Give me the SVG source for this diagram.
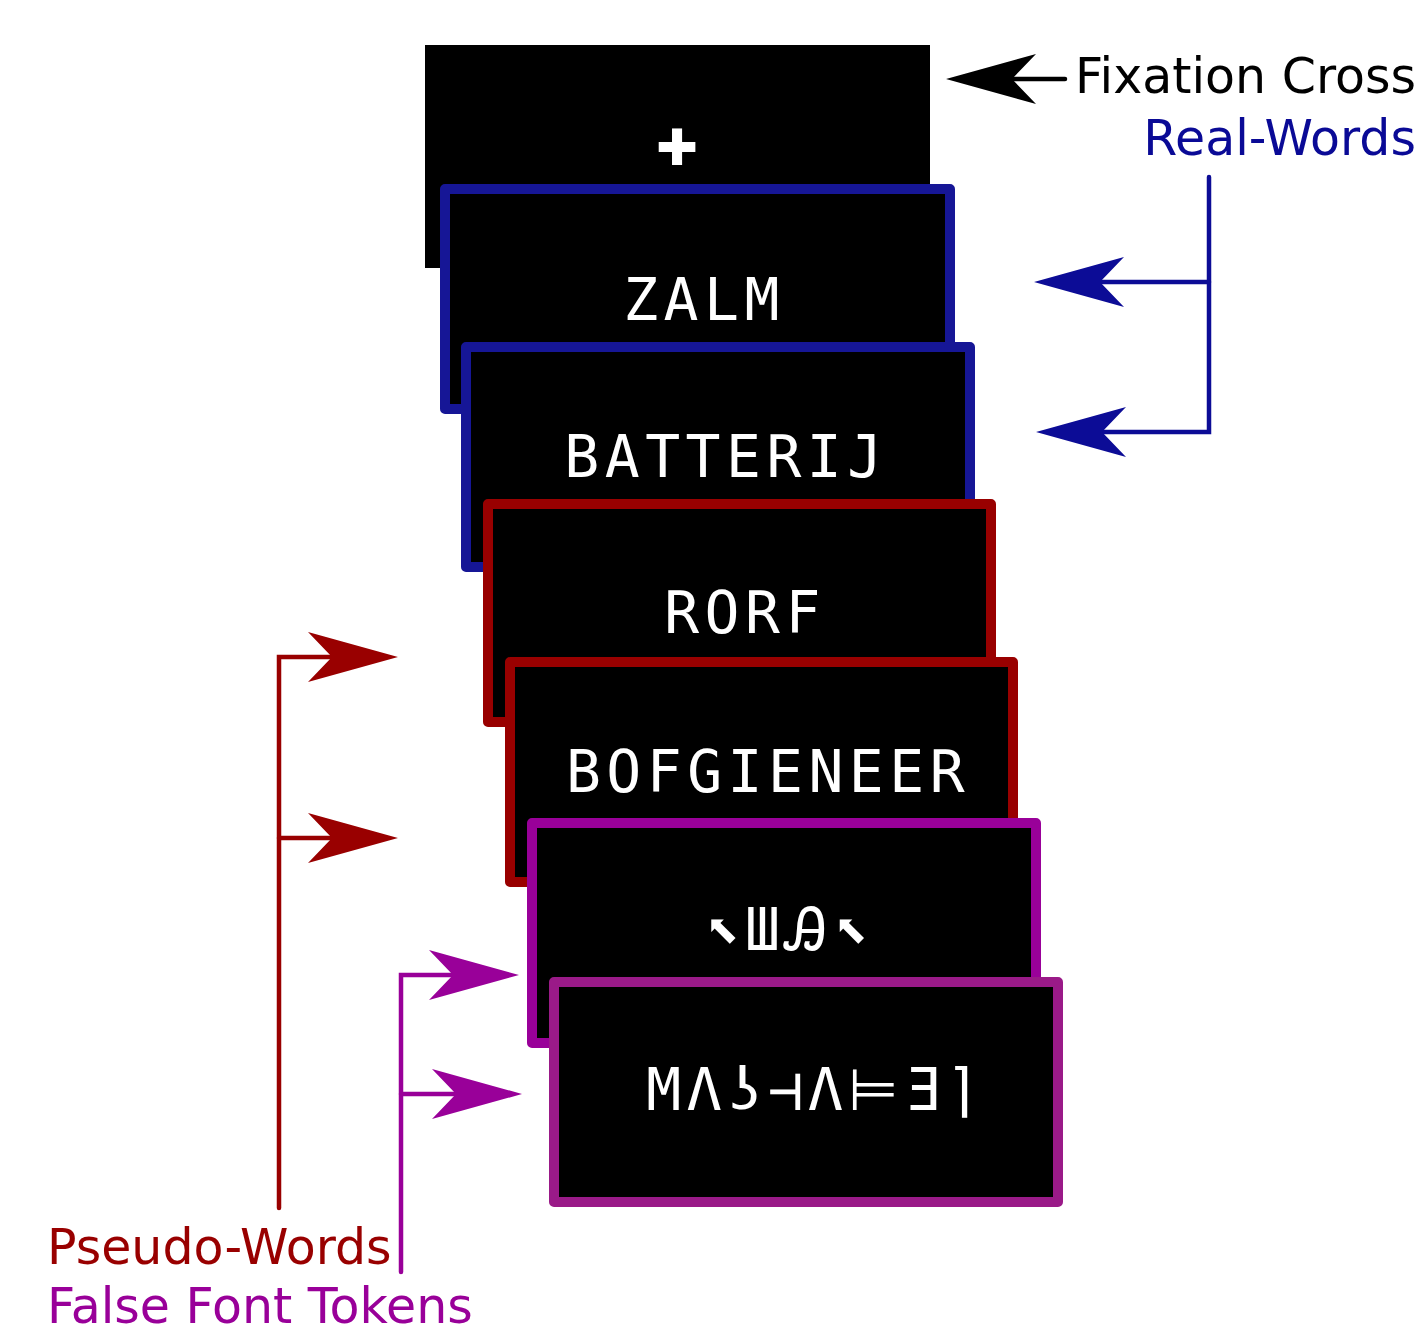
<svg xmlns="http://www.w3.org/2000/svg" width="1425" height="1333" viewBox="0 0 1425 1333">
<style>
.card{stroke-width:10;fill:#000;stroke-linejoin:round}
.word{font-family:"DejaVu Sans Mono","Liberation Mono",monospace;font-size:58px;letter-spacing:5.5px;fill:#fff;text-anchor:middle}
.lbl{font-family:"DejaVu Sans","Noto Sans",sans-serif;font-size:49px}
.conn{fill:none;stroke-width:4.5;stroke-linecap:round;stroke-linejoin:miter}
</style>
<defs>
<marker id="ahK" viewBox="-92 -27 94 54" refX="-66" refY="0" markerWidth="94" markerHeight="54" markerUnits="userSpaceOnUse" orient="auto"><path d="M0,0 L-90,-25 L-66,0 L-90,25 Z" fill="#000"/></marker>
<marker id="ahB" viewBox="-92 -27 94 54" refX="-66" refY="0" markerWidth="94" markerHeight="54" markerUnits="userSpaceOnUse" orient="auto"><path d="M0,0 L-90,-25 L-66,0 L-90,25 Z" fill="#0c0c96"/></marker>
<marker id="ahR" viewBox="-92 -27 94 54" refX="-66" refY="0" markerWidth="94" markerHeight="54" markerUnits="userSpaceOnUse" orient="auto"><path d="M0,0 L-90,-25 L-66,0 L-90,25 Z" fill="#990000"/></marker>
<marker id="ahP" viewBox="-92 -27 94 54" refX="-66" refY="0" markerWidth="94" markerHeight="54" markerUnits="userSpaceOnUse" orient="auto"><path d="M0,0 L-90,-25 L-66,0 L-90,25 Z" fill="#990099"/></marker>
</defs>
<rect width="1425" height="1333" fill="#fff"/>
<g id="fixation">
<rect x="425" y="45" width="505" height="223" fill="#000"/>
<text x="677" y="163" font-family="DejaVu Sans, sans-serif" font-weight="bold" font-size="52" fill="#fff" stroke="#fff" stroke-width="4" text-anchor="middle">+</text>
</g>
<g id="card-zalm">
<rect class="card" x="445" y="189" width="505" height="220" stroke="#161696"/>
<text class="word" x="704" y="320">ZALM</text>
</g>
<g id="card-batterij">
<rect class="card" x="466" y="347" width="504" height="220" stroke="#161696"/>
<text class="word" x="726" y="477">BATTERIJ</text>
</g>
<g id="card-rorf">
<rect class="card" x="488" y="504" width="503" height="218" stroke="#990000"/>
<text class="word" x="745" y="633">RORF</text>
</g>
<g id="card-bofgieneer">
<rect class="card" x="510" y="662" width="503" height="220" stroke="#990000"/>
<text class="word" x="768" y="792">BOFGIENEER</text>
</g>
<g id="card-falsefont1">
<rect class="card" x="532" y="823" width="504" height="220" stroke="#990099"/>
<text class="word" x="789" y="950">⬉ШᎯ⬉</text>
</g>
<g id="card-falsefont2">
<rect class="card" x="554" y="982" width="504" height="220" stroke="#9a1a88"/>
<text class="word" x="816" y="1110">MΛʖ⊣Λ⊨Ǝ⌉</text>
</g>
<g id="connectors">
<path class="conn" stroke="#000" d="M1065,79 H1012" marker-end="url(#ahK)"/>
<path class="conn" stroke="#0c0c96" d="M1209,177 V432 H1102" marker-end="url(#ahB)"/>
<path class="conn" stroke="#0c0c96" d="M1209,282 H1100" marker-end="url(#ahB)"/>
<path class="conn" stroke="#990000" d="M279,1208 V657 H332" marker-end="url(#ahR)"/>
<path class="conn" stroke="#990000" d="M279,838 H332" marker-end="url(#ahR)"/>
<path class="conn" stroke="#990099" d="M401,1272 V975 H453" marker-end="url(#ahP)"/>
<path class="conn" stroke="#990099" d="M401,1094 H456" marker-end="url(#ahP)"/>
</g>
<g id="labels">
<text class="lbl" x="1416" y="93" text-anchor="end" fill="#000">Fixation Cross</text>
<text class="lbl" x="1416" y="155" text-anchor="end" fill="#0a0a96">Real-Words</text>
<text class="lbl" x="47" y="1264" fill="#990000">Pseudo-Words</text>
<text class="lbl" x="47" y="1323" fill="#990099">False Font Tokens</text>
</g>
</svg>
